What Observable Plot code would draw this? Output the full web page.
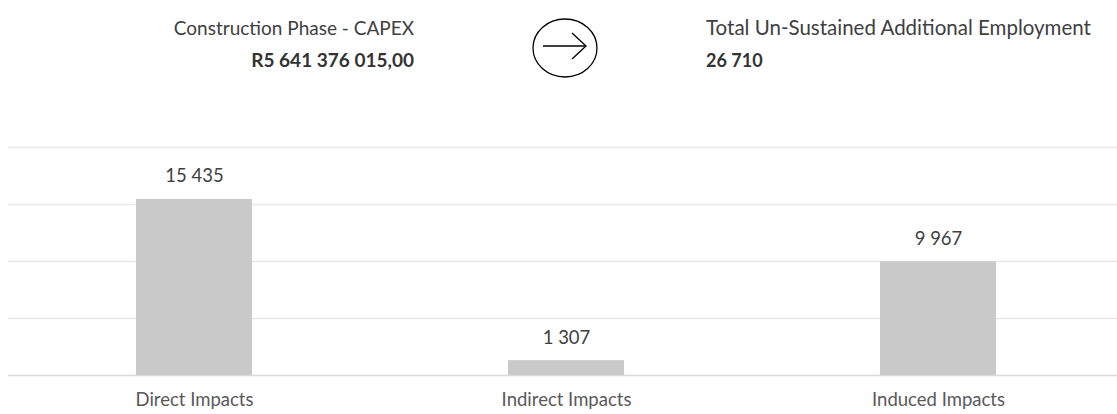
<!DOCTYPE html>
<html>
<head>
<meta charset="utf-8">
<script src="https://cdn.jsdelivr.net/npm/d3@7"></script>
<script src="https://cdn.jsdelivr.net/npm/@observablehq/plot@0.6"></script>
<style>
  html, body { margin: 0; padding: 0; background: #fff; }
  body { width: 1117px; height: 414px; overflow: hidden; position: relative; font-family: Lato, "Open Sans", sans-serif; }
  #header { position: absolute; left: 0; top: 0; width: 1117px; height: 110px; }
  #chart { position: absolute; left: 0; top: 110px; width: 1124px; }
  #chart svg { max-width: none !important; }
</style>
</head>
<body>
<div id="header"></div>
<div id="chart"></div>
<script>
// ---- data ----
const categories = ["Direct Impacts", "Indirect Impacts", "Induced Impacts"];
const values = [15435, 1307, 9967];
const yTicks = [0, 5000, 10000, 15000, 20000];
const leftTitle = "Construction Phase - CAPEX";
const leftValue = "R5 641 376 015,00";
const rightTitle = "Total Un-Sustained Additional Employment";
const rightValue = 26710;

const locale = d3.formatLocale({decimal: ",", thousands: " ", grouping: [3], currency: ["", ""]});
const fmt = locale.format(",d");
const FONT = "Lato, 'Open Sans', sans-serif";

// ---- header (decorative titles + arrow icon) ----
const hs = d3.select("#header").append("svg").attr("width", 1117).attr("height", 110)
  .style("font-family", FONT);
hs.append("text").attr("x", 414).attr("y", 35).attr("text-anchor", "end")
  .attr("font-size", 19).attr("fill", "#404040").text(leftTitle);
hs.append("text").attr("x", 414).attr("y", 67).attr("text-anchor", "end")
  .attr("font-size", 19).attr("font-weight", "bold").attr("fill", "#333").text(leftValue);
hs.append("text").attr("x", 706).attr("y", 35).attr("text-anchor", "start")
  .attr("font-size", 20.5).attr("fill", "#404040").text(rightTitle);
hs.append("text").attr("x", 706).attr("y", 67).attr("text-anchor", "start")
  .attr("font-size", 18).attr("font-weight", "bold").attr("fill", "#333").text(fmt(rightValue));
hs.append("ellipse").attr("cx", 565).attr("cy", 48).attr("rx", 32).attr("ry", 29)
  .attr("fill", "none").attr("stroke", "#000").attr("stroke-width", 1.3);
hs.append("line").attr("x1", 543).attr("y1", 46).attr("x2", 586).attr("y2", 46)
  .attr("stroke", "#000").attr("stroke-width", 1.3);
hs.append("polyline").attr("points", "572,33 586,46 572,59")
  .attr("fill", "none").attr("stroke", "#000").attr("stroke-width", 1.3);

// ---- chart ----
const data = categories.map((c, i) => ({category: c, value: values[i]}));
const chart = Plot.plot({
  width: 1124,
  height: 304,
  marginLeft: 8,
  marginRight: 0,
  marginTop: 37,
  marginBottom: 39,
  style: {fontFamily: FONT, background: "transparent", overflow: "visible", maxWidth: "none"},
  x: {domain: categories, paddingInner: 0.688, paddingOuter: 0.344, round: false, axis: null},
  y: {domain: [0, 20000], axis: null},
  marks: [
    Plot.ruleY(yTicks.slice(1), {stroke: "#e8e8e8", strokeWidth: 1.5}),
    Plot.barY(data, {x: "category", y: "value", fill: "#c9c9c9"}),
    Plot.ruleY([0], {stroke: "#d9d9d9", strokeWidth: 1.5}),
    Plot.text(data, {x: "category", y: "value", text: d => fmt(d.value), dy: -23, fontSize: 18.5, fill: "#404040"}),
    Plot.axisX({tickSize: 0, tickPadding: 17, fontSize: 18.5, color: "#595959", label: null})
  ]
});
document.getElementById("chart").appendChild(chart);
</script>
</body>
</html>
